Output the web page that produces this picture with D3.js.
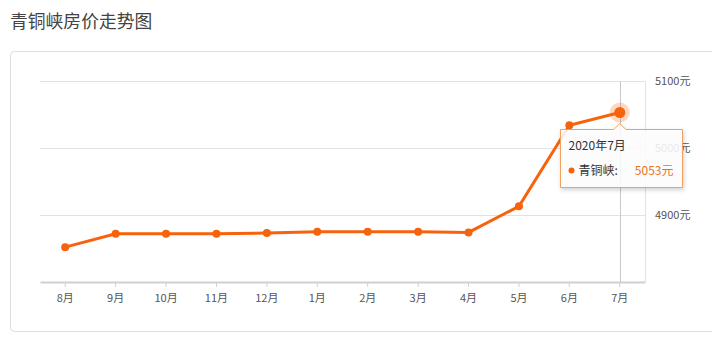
<!DOCTYPE html>
<html>
<head>
<meta charset="utf-8">
<script src="https://cdn.jsdelivr.net/npm/d3@7"></script>
<style>
  body { margin: 0; background: #fff; font-family: "Microsoft YaHei", "Noto Sans CJK SC", sans-serif; }
  #chart { width: 712px; height: 342px; position: relative; }
</style>
</head>
<body>
<div id="chart"></div>
<script>
//Datos
const months = ['8月','9月','10月','11月','12月','1月','2月','3月','4月','5月','6月','7月'];
const prices = [4852, 4872, 4872, 4872, 4873, 4875, 4875, 4875, 4874, 4913, 5034, 5053];
const yTicks = [4900, 5000, 5100];
const city = '青铜峡';
const tipTitle = '2020年7月';

const COLOR_LINE = '#f7630c';

let svg = d3.select('#chart').append('svg')
    .attr('width', 712).attr('height', 342);

//Título
svg.append('text')
    .attr('x', 10).attr('y', 28)
    .attr('font-size', 17.8)
    .attr('fill', '#444')
    .text('青铜峡房价走势图');

//Marco
svg.append('rect')
    .attr('x', 10.5).attr('y', 51.5)
    .attr('width', 720).attr('height', 280)
    .attr('rx', 4)
    .attr('fill', '#fff')
    .attr('stroke', '#ddd');

let margin = {left: 40, right: 645, top: 81, bottom: 282};

let x = d3.scaleBand()
    .domain(months)
    .range([margin.left, margin.right]);

let y = d3.scaleLinear()
    .domain([4800, 5100])
    .range([margin.bottom, margin.top]);

let cx = d => x(d) + x.bandwidth() / 2;

//Rejilla
svg.append('g')
    .selectAll('line')
    .data(yTicks)
    .enter()
    .append('line')
    .attr('x1', margin.left).attr('x2', margin.right)
    .attr('y1', d => Math.round(y(d)) + 0.5)
    .attr('y2', d => Math.round(y(d)) + 0.5)
    .attr('stroke', '#e2e2e2');

svg.append('line')
    .attr('x1', margin.right + 0.5).attr('x2', margin.right + 0.5)
    .attr('y1', margin.top).attr('y2', margin.bottom)
    .attr('stroke', '#e2e2e2');

//Eje Y
svg.append('g')
    .selectAll('text')
    .data(yTicks)
    .enter()
    .append('text')
    .attr('x', 655)
    .attr('y', d => y(d) + 4)
    .attr('font-size', 11)
    .attr('fill', '#555')
    .text(d => d + '元');

//Eje X
let xAxis = svg.append('g')
    .attr('transform', 'translate(0,' + margin.bottom + ')')
    .call(d3.axisBottom(x).tickSize(5).tickSizeOuter(0));
xAxis.select('.domain').attr('stroke', '#d0d0d0').attr('stroke-width', 2);
xAxis.selectAll('.tick line').attr('stroke', '#d0d0d0');
xAxis.selectAll('.tick text')
    .attr('font-size', 11)
    .attr('fill', '#555')
    .attr('font-family', '"Microsoft YaHei", "Noto Sans CJK SC", sans-serif')
    .attr('dy', '1.1em');

//Línea vertical del cursor
let last = months.length - 1;
svg.append('line')
    .attr('x1', Math.round(cx(months[last])) + 0.5)
    .attr('x2', Math.round(cx(months[last])) + 0.5)
    .attr('y1', margin.top).attr('y2', margin.bottom)
    .attr('stroke', '#c8c8c8');

//Línea
let line = d3.line()
    .x((d, i) => cx(months[i]))
    .y(d => y(d));

svg.append('path')
    .datum(prices)
    .attr('d', line)
    .attr('fill', 'none')
    .attr('stroke', COLOR_LINE)
    .attr('stroke-width', 3);

svg.append('g')
    .selectAll('circle')
    .data(prices)
    .enter()
    .append('circle')
    .attr('cx', (d, i) => cx(months[i]))
    .attr('cy', d => y(d))
    .attr('r', 4)
    .attr('fill', COLOR_LINE);

//Punto destacado
svg.append('circle')
    .attr('cx', cx(months[last])).attr('cy', y(prices[last]))
    .attr('r', 10)
    .attr('fill', COLOR_LINE).attr('opacity', 0.25);
svg.append('circle')
    .attr('cx', cx(months[last])).attr('cy', y(prices[last]))
    .attr('r', 5.5)
    .attr('fill', COLOR_LINE);

//Tooltip
let tx = 560.5, ty = 129.5, tw = 122, th = 58, ax = cx(months[last]);
let defs = svg.append('defs');
let filter = defs.append('filter').attr('id', 'sh').attr('x', '-20%').attr('y', '-20%').attr('width', '140%').attr('height', '150%');
filter.append('feDropShadow').attr('dx', 1).attr('dy', 2).attr('stdDeviation', 2).attr('flood-color', '#000').attr('flood-opacity', 0.2);

svg.append('path')
    .attr('d', `M${tx},${ty} H${ax - 6} L${ax},${ty - 6} L${ax + 6},${ty} H${tx + tw} V${ty + th} H${tx} Z`)
    .attr('fill', '#fff')
    .attr('fill-opacity', 0.85)
    .attr('stroke', '#f0a060')
    .attr('filter', 'url(#sh)');

svg.append('text')
    .attr('x', tx + 8).attr('y', ty + 20)
    .attr('font-size', 12).attr('fill', '#333')
    .text(tipTitle);
svg.append('circle')
    .attr('cx', tx + 11).attr('cy', ty + 41)
    .attr('r', 3).attr('fill', COLOR_LINE);
svg.append('text')
    .attr('x', tx + 18).attr('y', ty + 45)
    .attr('font-size', 12).attr('fill', '#333')
    .text(city + ':');
svg.append('text')
    .attr('x', tx + tw - 9).attr('y', ty + 45)
    .attr('text-anchor', 'end')
    .attr('font-size', 12).attr('fill', '#e8751a')
    .text(prices[last] + '元');
</script>
</body>
</html>
